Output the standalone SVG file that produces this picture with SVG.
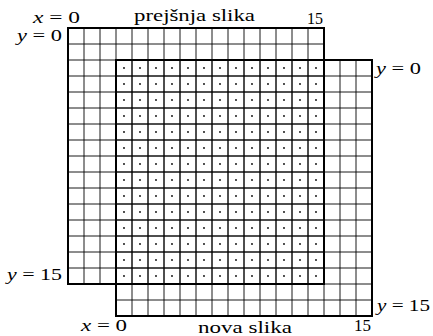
<svg xmlns="http://www.w3.org/2000/svg" width="433" height="336" viewBox="0 0 433 336">
<style>
.thin{fill:none;stroke:#000;stroke-width:0.9}
.thick{fill:none;stroke:#000;stroke-width:2}
.t{font-family:"Liberation Serif","DejaVu Serif","Times New Roman",serif;font-size:16px;fill:#000}
.v{font-style:italic}
</style>
<defs>
<pattern id="dots" patternUnits="userSpaceOnUse" x="116" y="60" width="16" height="16">
<circle cx="8" cy="8" r="0.9" fill="#000"/>
</pattern>
</defs>
<rect width="433" height="336" fill="#fff"/>
<g id="grid-prev">
<path class="thin" d="M84 28v256m16-256v256m16-256v256m16-256v256m16-256v256m16-256v256m16-256v256m16-256v256m16-256v256m16-256v256m16-256v256m16-256v256m16-256v256m16-256v256m16-256v256M68 44h256m-256 16h256m-256 16h256m-256 16h256m-256 16h256m-256 16h256m-256 16h256m-256 16h256m-256 16h256m-256 16h256m-256 16h256m-256 16h256m-256 16h256m-256 16h256m-256 16h256"/>
</g>
<g id="grid-new">
<path class="thin" d="M132 60v256m16-256v256m16-256v256m16-256v256m16-256v256m16-256v256m16-256v256m16-256v256m16-256v256m16-256v256m16-256v256m16-256v256m16-256v256m16-256v256m16-256v256M116 76h256m-256 16h256m-256 16h256m-256 16h256m-256 16h256m-256 16h256m-256 16h256m-256 16h256m-256 16h256m-256 16h256m-256 16h256m-256 16h256m-256 16h256m-256 16h256m-256 16h256"/>
</g>
<g id="overlap">
<rect x="116" y="60" width="208" height="224" fill="url(#dots)"/>
</g>
<g id="borders">
<rect class="thick" x="68" y="28" width="256" height="256"/>
<rect class="thick" x="116" y="60" width="256" height="256"/>
</g>
<g id="labels">
<text class="t" x="33" y="23" textLength="47" lengthAdjust="spacingAndGlyphs"><tspan class="v">x</tspan> = 0</text>
<text class="t" x="17" y="41" textLength="45" lengthAdjust="spacingAndGlyphs"><tspan class="v">y</tspan> = 0</text>
<text class="t" x="134" y="21" textLength="121" lengthAdjust="spacingAndGlyphs">prejšnja slika</text>
<text class="t" x="307" y="24" textLength="16" lengthAdjust="spacingAndGlyphs">15</text>
<text class="t" x="376" y="74" textLength="45" lengthAdjust="spacingAndGlyphs"><tspan class="v">y</tspan> = 0</text>
<text class="t" x="7" y="280" textLength="55" lengthAdjust="spacingAndGlyphs"><tspan class="v">y</tspan> = 15</text>
<text class="t" x="377" y="311" textLength="53" lengthAdjust="spacingAndGlyphs"><tspan class="v">y</tspan> = 15</text>
<text class="t" x="81" y="331" textLength="46" lengthAdjust="spacingAndGlyphs"><tspan class="v">x</tspan> = 0</text>
<text class="t" x="198" y="333" textLength="94" lengthAdjust="spacingAndGlyphs">nova slika</text>
<text class="t" x="354" y="331" textLength="17" lengthAdjust="spacingAndGlyphs">15</text>
</g>
</svg>
